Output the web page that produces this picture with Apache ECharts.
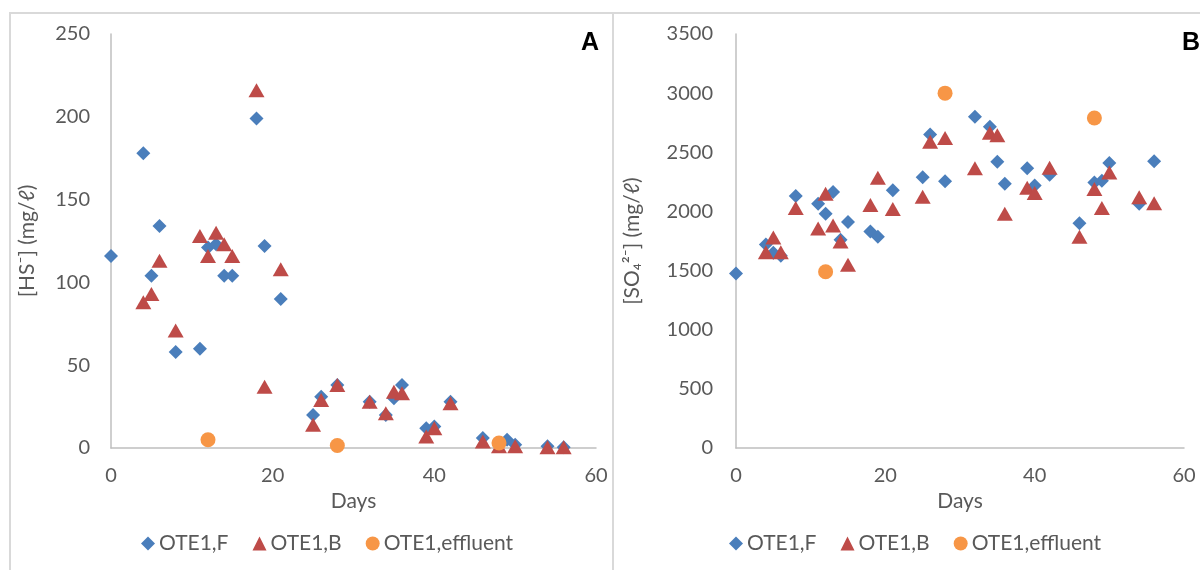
<!DOCTYPE html>
<html>
<head>
<meta charset="utf-8">
<script src="https://cdn.jsdelivr.net/npm/echarts@6/dist/echarts.min.js"></script>
<style>html,body{margin:0;padding:0;background:#fff}#c{width:1200px;height:570px}</style>
</head>
<body>
<div id="c"></div>
<script>
// ---- Data ----
const seriesNames = ['OTE1,F', 'OTE1,B', 'OTE1,effluent'];
const xTicks = [0, 20, 40, 60];

// Panel A: [HS-] (mg/l)
const hsDaysF = [0,4,5,6,8,11,12,13,14,15,18,19,21,25,26,28,32,34,35,36,39,40,42,46,49,50,54,56];
const hsF     = [116,178,104,134,58,60,121,123,104,104,199,122,90,20,31,38,28,20,30,38,12,13,28,6,5,2,1,0.5];
const hsDaysB = [4,5,6,8,11,12,13,14,15,18,19,21,25,26,28,32,34,35,36,39,40,42,46,48,50,54,56];
const hsB     = [88,93,113,71,128,116,130,123,116,216,37,108,14,29,38,28,21,34,33,7,12,27,4,1,1,0.5,0.5];
const hsDaysE = [12,28,48];
const hsE     = [5,1.5,3];

// Panel B: [SO4 2-] (mg/l)
const soDaysF = [0,4,5,6,8,11,12,13,14,15,18,19,21,25,26,28,32,34,35,36,39,40,42,46,48,49,50,54,56];
const soF     = [1475,1720,1650,1625,2130,2065,1980,2165,1760,1910,1830,1785,2180,2290,2650,2255,2800,2715,2420,2235,2365,2220,2310,1900,2245,2260,2410,2065,2425];
const soDaysB = [4,5,6,8,11,12,13,14,15,18,19,21,25,26,28,32,34,35,36,39,40,42,46,48,49,50,54,56];
const soB     = [1655,1780,1655,2030,1855,2150,1880,1745,1550,2055,2285,2020,2125,2590,2620,2365,2665,2645,1980,2200,2155,2370,1785,2190,2030,2330,2120,2070];
const soDaysE = [12,28,48];
const soE     = [1490,3000,2790];

// ---- Chart ----
const pairs = (xs, ys) => xs.map((x, i) => [x, ys[i]]);
const FONT = 'Lato, "Open Sans", sans-serif';
const GRAY = '#595959';
const colors = ['#4A7EBB', '#BE4B48', '#F79646'];
const symbols = ['diamond', 'triangle', 'circle'];
const sizes = [[14, 14], [16, 14], 15];

function xAxis(gi) {
  return {
    type: 'value', gridIndex: gi, min: 0, max: 60, interval: 20,
    name: 'Days', nameLocation: 'middle', nameGap: 36,
    nameTextStyle: { fontFamily: FONT, fontSize: 21, color: GRAY },
    axisLine: { show: true, lineStyle: { color: '#BFBFBF', width: 1.5 } },
    axisTick: { show: false }, splitLine: { show: false },
    axisLabel: { fontFamily: FONT, fontSize: 20, color: GRAY, margin: 18,
      formatter: v => xTicks.includes(v) ? String(v) : '' }
  };
}
function yAxis(gi, max, interval, name, gap, margin) {
  return {
    type: 'value', gridIndex: gi, min: 0, max: max, interval: interval,
    name: name, nameLocation: 'middle', nameGap: gap, nameRotate: 90,
    nameTextStyle: { fontFamily: FONT, fontSize: 21, color: GRAY },
    axisLine: { show: true, lineStyle: { color: '#BFBFBF', width: 1.5 } },
    axisTick: { show: false }, splitLine: { show: false },
    axisLabel: { fontFamily: FONT, fontSize: 20, color: GRAY, margin: margin,
      formatter: v => String(v) }
  };
}
function mkSeries(gi, datas) {
  return datas.map((d, i) => ({
    type: 'scatter', name: seriesNames[i], xAxisIndex: gi, yAxisIndex: gi,
    symbol: symbols[i], symbolSize: sizes[i], data: d,
    itemStyle: { color: colors[i], opacity: 1 }, z: 2 + i
  }));
}
const legendBase = {
  data: seriesNames.map((n, i) => ({ name: n, icon: symbols[i] })),
  itemWidth: 14, itemHeight: 14, itemGap: 24, orient: 'horizontal',
  textStyle: { fontFamily: FONT, fontSize: 21, color: GRAY, padding: [0, 0, 0, -1] },
  selectedMode: false
};

const chart = echarts.init(document.getElementById('c'));
chart.setOption({
  animation: false,
  backgroundColor: '#fff',
  grid: [
    { left: 111, top: 34, width: 485, height: 414, outerBoundsMode: 'none' },
    { left: 736, top: 34, width: 448, height: 414, outerBoundsMode: 'none' }
  ],
  xAxis: [xAxis(0), xAxis(1)],
  yAxis: [
    yAxis(0, 250, 50, '[HS⁻] (mg/ℓ)', 73, 21),
    yAxis(1, 3500, 500, '[SO₄²⁻] (mg/ℓ)', 93, 23)
  ],
  legend: [
    Object.assign({}, legendBase, { left: 136, top: 528 }),
    Object.assign({}, legendBase, { left: 724, top: 528 })
  ],
  graphic: [
    { type: 'rect', shape: { x: 10, y: 13, width: 603, height: 570 }, style: { fill: 'none', stroke: '#D9D9D9', lineWidth: 2 }, silent: true },
    { type: 'rect', shape: { x: 613, y: 13, width: 600, height: 570 }, style: { fill: 'none', stroke: '#D9D9D9', lineWidth: 2 }, silent: true },
    { type: 'text', left: 581, top: 31, style: { text: 'A', font: 'bold 25px "Liberation Sans", Arial, sans-serif', fill: '#000' } },
    { type: 'text', left: 1182, top: 31, style: { text: 'B', font: 'bold 25px "Liberation Sans", Arial, sans-serif', fill: '#000' } }
  ],
  series: [].concat(
    mkSeries(0, [pairs(hsDaysF, hsF), pairs(hsDaysB, hsB), pairs(hsDaysE, hsE)]),
    mkSeries(1, [pairs(soDaysF, soF), pairs(soDaysB, soB), pairs(soDaysE, soE)])
  )
});
</script>
</body>
</html>
